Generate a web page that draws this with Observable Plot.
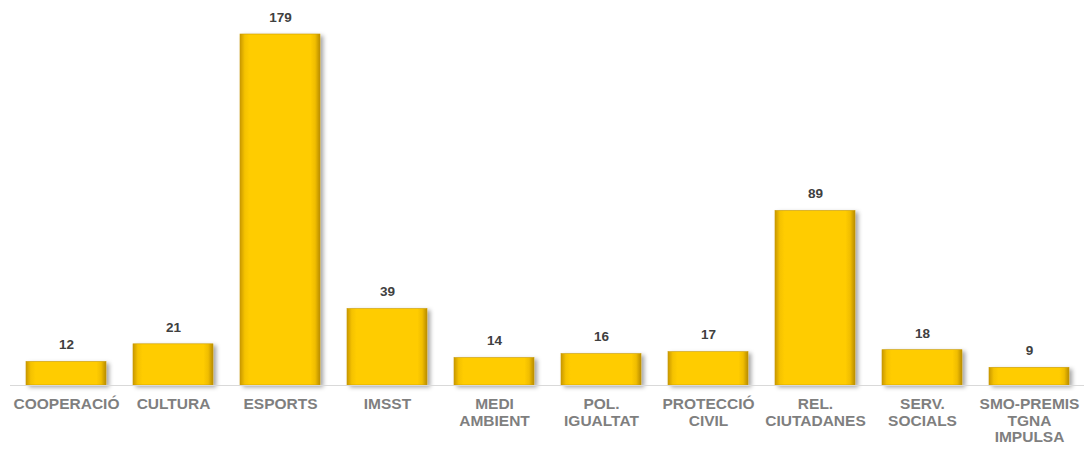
<!DOCTYPE html>
<html><head><meta charset="utf-8">
<script src="https://cdn.jsdelivr.net/npm/d3@7"></script>
<script src="https://cdn.jsdelivr.net/npm/@observablehq/plot@0.6"></script>
<style>body{margin:0;background:#fff;font-family:"Liberation Sans",Arial,sans-serif}</style>
</head><body><div id="chart"></div>
<script>
const categories = ["COOPERACIÓ","CULTURA","ESPORTS","IMSST","MEDI\nAMBIENT","POL.\nIGUALTAT","PROTECCIÓ\nCIVIL","REL.\nCIUTADANES","SERV.\nSOCIALS","SMO-PREMIS\nTGNA\nIMPULSA"];
const values = [12,21,179,39,14,16,17,89,18,9];
const data = categories.map((c,i)=>({c, v: values[i]}));

const chart = Plot.plot({
  width: 1084, height: 450,
  marginLeft: 10, marginRight: 0, marginTop: 34, marginBottom: 65,
  style: {fontFamily: '"Liberation Sans", Arial, sans-serif', background: "#fff"},
  x: {domain: categories, paddingInner: 0.255, paddingOuter: 0.1275, label: null},
  y: {domain: [0,179], axis: null},
  marks: [
    Plot.barY(data, {x: "c", y: "v", fill: "url(#goldGrad)", stroke: "#c99a00", strokeWidth: 0.6}),
    Plot.ruleY([0], {stroke: "#d9d9d9", strokeWidth: 1}),
    Plot.text(data, {x: "c", y: "v", text: d => String(d.v), dy: -17, fill: "#404040", fontSize: 13.5, fontWeight: "bold"}),
    Plot.axisX({tickSize: 0, tickPadding: 12, fontSize: 15.5, fontWeight: "bold", fill: "#7f7f7f", lineHeight: 1.07, label: null})
  ]
});
const svg = d3.select(chart);
const defs = svg.insert("defs", ":first-child");
const g = defs.append("linearGradient").attr("id","goldGrad").attr("x1","0").attr("x2","1").attr("y1","0").attr("y2","0");
[["0%","#c99800"],["6%","#f5c200"],["12%","#ffcc00"],["88%","#ffcc00"],["94%","#f0bd00"],["100%","#b88c00"]].forEach(([o,c])=>g.append("stop").attr("offset",o).attr("stop-color",c));
const f = defs.append("filter").attr("id","shadow").attr("x","-20%").attr("y","-20%").attr("width","150%").attr("height","150%");
f.append("feDropShadow").attr("dx",3).attr("dy",2).attr("stdDeviation",2).attr("flood-color","#000").attr("flood-opacity",0.35);
svg.selectAll("rect").attr("filter","url(#shadow)");
document.getElementById("chart").appendChild(chart);
</script></body></html>
